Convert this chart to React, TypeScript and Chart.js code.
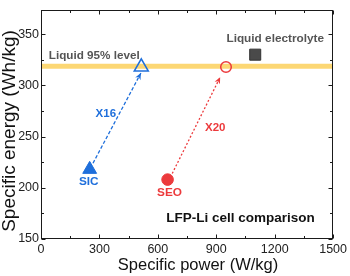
import React, { useEffect, useRef } from "react";
import { Chart, registerables } from "chart.js";

Chart.register(...registerables);

// ---- data ----
const markerNames = ["SIC", "SEO", "SIC (liquid 95%)", "SEO (liquid 95%)", "Liquid electrolyte"];
const markerPower = [250, 650, 515, 950, 1100];
const markerEnergy = [218, 208, 318, 318, 330];

const liquid95Level = 318.7;

const arrowNames = ["X16", "X20"];
const arrowStartPower = [267, 674];
const arrowStartEnergy = [224, 214];
const arrowEndPower = [513, 920];
const arrowEndEnergy = [312, 308];

const annotationTexts = ["Liquid 95% level", "Liquid electrolyte", "LFP-Li cell comparison", "X16", "X20", "SIC", "SEO"];
const annotationPower = [40, 1203, 1024, 333, 895, 245, 660];
const annotationEnergy = [329.4, 346, 170.6, 272.5, 259, 206, 194.7];

const xTickValues = [0, 300, 600, 900, 1200, 1500];
const yTickValues = [150, 200, 250, 300, 350];
const xMinorStep = 150;
const yMinorStep = 25;

const xTitle = "Specific power (W/kg)";
const yTitle = "Specific energy (Wh/kg)";

// ---- styles ----
const BLUE = "#1f6fdb";
const RED = "#ec3a3c";
const GREY = "#4a4a4a";
const BAND = "#fcd774";
const FONT = "'Liberation Sans', Arial, sans-serif";

const annotationStyles = [
  { color: "#555", size: 11.7, align: "left" },
  { color: "#555", size: 11.8, align: "center" },
  { color: "#111", size: 13.5, align: "center" },
  { color: BLUE, size: 11.5, align: "center" },
  { color: RED, size: 11.5, align: "center" },
  { color: BLUE, size: 11.8, align: "center" },
  { color: RED, size: 11.8, align: "center" },
];

const framePlugin = {
  id: "framePlugin",
  afterDatasetsDraw(chart: any) {
    const { ctx, chartArea: a, scales } = chart;
    const xs = scales.x;
    const ys = scales.y;
    ctx.save();
    // arrowheads
    for (let i = 0; i < arrowNames.length; i++) {
      const x0 = xs.getPixelForValue(arrowStartPower[i]);
      const y0 = ys.getPixelForValue(arrowStartEnergy[i]);
      const x1 = xs.getPixelForValue(arrowEndPower[i]);
      const y1 = ys.getPixelForValue(arrowEndEnergy[i]);
      const ang = Math.atan2(y1 - y0, x1 - x0);
      const L = 6.5, W = 3;
      ctx.fillStyle = i === 0 ? BLUE : RED;
      ctx.beginPath();
      ctx.moveTo(x1, y1);
      ctx.lineTo(x1 - L * Math.cos(ang) + W * Math.sin(ang), y1 - L * Math.sin(ang) - W * Math.cos(ang));
      ctx.lineTo(x1 - L * 0.7 * Math.cos(ang), y1 - L * 0.7 * Math.sin(ang));
      ctx.lineTo(x1 - L * Math.cos(ang) - W * Math.sin(ang), y1 - L * Math.sin(ang) + W * Math.cos(ang));
      ctx.closePath();
      ctx.fill();
    }
    // frame
    ctx.strokeStyle = "#1a1a1a";
    ctx.lineWidth = 1;
    const l = Math.round(a.left) + 0.5, r = Math.round(a.right) - 0.5;
    const t = Math.round(a.top) + 0.5, b = Math.round(a.bottom) - 0.5;
    ctx.strokeRect(l, t, r - l, b - t);
    // inward ticks
    ctx.beginPath();
    for (let v = xs.min; v <= xs.max + 1e-6; v += xMinorStep) {
      const major = xTickValues.includes(v);
      const len = major ? 4 : 2.5;
      const px = Math.round(xs.getPixelForValue(v)) + 0.5;
      ctx.moveTo(px, b); ctx.lineTo(px, b - len);
      ctx.moveTo(px, t); ctx.lineTo(px, t + len);
    }
    for (let v = ys.min; v <= ys.max + 1e-6; v += yMinorStep) {
      const major = yTickValues.includes(v);
      const len = major ? 4 : 2.5;
      const py = Math.round(ys.getPixelForValue(v)) + 0.5;
      ctx.moveTo(l, py); ctx.lineTo(l + len, py);
      ctx.moveTo(r, py); ctx.lineTo(r - len, py);
    }
    ctx.stroke();
    // annotations
    ctx.textBaseline = "middle";
    for (let i = 0; i < annotationTexts.length; i++) {
      const s = annotationStyles[i];
      ctx.fillStyle = s.color;
      ctx.font = `bold ${s.size}px ${FONT}`;
      ctx.textAlign = s.align as CanvasTextAlign;
      ctx.fillText(annotationTexts[i], xs.getPixelForValue(annotationPower[i]), ys.getPixelForValue(annotationEnergy[i]));
    }
    // axis titles
    ctx.fillStyle = "#111";
    ctx.textAlign = "center";
    ctx.font = `16.5px ${FONT}`;
    ctx.fillText(xTitle, 198, 265);
    ctx.save();
    ctx.translate(10, 131);
    ctx.rotate(-Math.PI / 2);
    ctx.font = `19px ${FONT}`;
    ctx.fillText(yTitle, 0, 0);
    ctx.restore();
    ctx.restore();
  },
};

export default function App() {
  const ref = useRef<HTMLCanvasElement>(null);
  useEffect(() => {
    if (!ref.current) return;
    const markerDs = (i: number, style: string, radius: number, fill: string, border: string, bw: number) => ({
      type: "scatter" as const,
      label: markerNames[i],
      data: [{ x: markerPower[i], y: markerEnergy[i] }],
      pointStyle: style,
      pointRadius: radius,
      pointBackgroundColor: fill,
      pointBorderColor: border,
      pointBorderWidth: bw,
      order: 1,
    });
    const arrowDs = (i: number, color: string, dash: number[]) => ({
      type: "line" as const,
      label: arrowNames[i],
      data: [
        { x: arrowStartPower[i], y: arrowStartEnergy[i] },
        { x: arrowEndPower[i], y: arrowEndEnergy[i] },
      ],
      borderColor: color,
      borderWidth: 1.3,
      borderDash: dash,
      pointRadius: 0,
      fill: false,
      order: 2,
    });
    const chart = new Chart(ref.current, {
      type: "scatter",
      data: {
        datasets: [
          {
            type: "line",
            label: "Liquid 95% level",
            data: [
              { x: 0, y: liquid95Level },
              { x: 1500, y: liquid95Level },
            ],
            borderColor: BAND,
            borderWidth: 5,
            pointRadius: 0,
            fill: false,
            order: 5,
          } as any,
          arrowDs(0, BLUE, [3.5, 2]),
          arrowDs(1, RED, [2, 2]),
          markerDs(0, "triangle", 8, BLUE, BLUE, 1),
          markerDs(1, "circle", 5.8, RED, RED, 1),
          markerDs(2, "triangle", 8, "rgba(0,0,0,0)", BLUE, 1.6),
          markerDs(3, "circle", 5.3, "rgba(0,0,0,0)", RED, 1.5),
          markerDs(4, "rect", 7.8, GREY, "#333", 1),
        ] as any,
      },
      options: {
        animation: false,
        responsive: false,
        devicePixelRatio: 1,
        layout: { padding: { left: 0, right: 15, top: 3, bottom: 0 } },
        plugins: { legend: { display: false }, tooltip: { enabled: false } },
        scales: {
          x: {
            type: "linear",
            min: 0,
            max: 1500,
            afterBuildTicks: (s: any) => {
              s.ticks = xTickValues.map((v) => ({ value: v }));
            },
            afterFit: (s: any) => {
              s.height = 37;
            },
            grid: { display: false, drawTicks: false },
            border: { display: false },
            ticks: {
              padding: 3,
              color: "#222",
              font: { family: FONT, size: 12.5 },
              maxRotation: 0,
              callback: (v: any) => String(v),
            },
          },
          y: {
            type: "linear",
            min: 150,
            max: 374,
            afterBuildTicks: (s: any) => {
              s.ticks = yTickValues.map((v) => ({ value: v }));
            },
            afterFit: (s: any) => {
              s.width = 41;
            },
            grid: { display: false, drawTicks: false },
            border: { display: false },
            ticks: { padding: 2, color: "#222", font: { family: FONT, size: 12.5 }, callback: (v: any) => String(v) },
          },
        },
      } as any,
      plugins: [framePlugin],
    });
    return () => chart.destroy();
  }, []);
  return (
    <div style={{ position: "absolute", left: 0, top: 0, width: 350, height: 276, background: "#fff" }}>
      <canvas ref={ref} width={350} height={276} />
    </div>
  );
}
